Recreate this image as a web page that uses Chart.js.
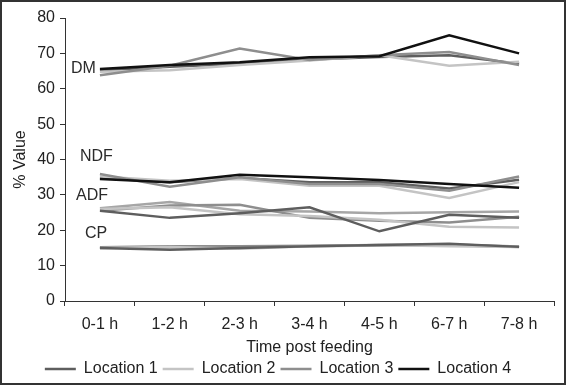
<!DOCTYPE html>
<html>
<head>
<meta charset="utf-8">
<script src="https://cdn.jsdelivr.net/npm/chart.js@4.4.1/dist/chart.umd.min.js"></script>
<style>
    html, body { margin: 0; padding: 0; background: #fff; }
    #frame { width: 566px; height: 385px; box-sizing: border-box; border: 2px solid #333; background: #fff; }
    canvas { display: block; }
</style>
</head>
<body>
<div id="frame"><canvas id="chart" width="562" height="381"></canvas></div>
<script>
var timeLabels = ["0-1 h", "1-2 h", "2-3 h", "3-4 h", "4-5 h", "6-7 h", "7-8 h"];
var locationNames = ["Location 1", "Location 2", "Location 3", "Location 4"];
var locationColors = ["#5e5e5e", "#c4c4c4", "#8e8e8e", "#111111"];

// DM
var dmLoc1 = [65.2, 66.2, 67.1, 68.3, 69.0, 69.5, 67.1];
var dmLoc2 = [64.8, 65.2, 66.7, 68.0, 69.5, 66.5, 67.6];
var dmLoc3 = [63.8, 66.5, 71.4, 68.1, 69.5, 70.4, 66.7];
var dmLoc4 = [65.6, 66.7, 67.5, 68.9, 69.2, 75.1, 70.0];
// NDF
var ndfLoc1 = [34.8, 33.6, 34.8, 33.6, 33.6, 31.8, 34.3];
var ndfLoc2 = [35.2, 34.0, 34.5, 32.6, 32.6, 29.1, 33.6];
var ndfLoc3 = [35.9, 32.3, 35.0, 33.1, 33.1, 31.2, 35.2];
var ndfLoc4 = [34.5, 33.6, 35.7, 35.0, 34.2, 33.1, 32.0];
// ADF
var adfLoc1 = [25.5, 23.5, 24.8, 26.5, 19.7, 24.4, 23.5];
var adfLoc2 = [26.0, 26.5, 24.5, 24.0, 23.0, 21.0, 20.8];
var adfLoc3 = [25.5, 27.0, 27.2, 23.5, 22.7, 22.2, 23.8];
var adfLoc4 = [26.2, 28.0, 25.5, 25.3, 24.8, 25.1, 25.3];
// CP
var cpLoc1 = [15.0, 14.5, 15.0, 15.5, 15.8, 16.2, 15.3];
var cpLoc2 = [15.0, 15.3, 14.8, 15.5, 15.8, 15.5, 15.3];
var cpLoc3 = [15.2, 15.5, 15.5, 15.6, 15.8, 16.0, 15.4];
var cpLoc4 = [15.0, 15.2, 15.4, 15.5, 15.7, 15.8, 15.3];

var yTicks = [0, 10, 20, 30, 40, 50, 60, 70, 80];

// group labels drawn inside the plot: text and the value they sit at
var groupNames = ["DM", "NDF", "ADF", "CP"];
var groupValues = [65.8, 40.8, 29.8, 19.0];

var seriesByLocation = [
    [dmLoc1, ndfLoc1, adfLoc1, cpLoc1],
    [dmLoc2, ndfLoc2, adfLoc2, cpLoc2],
    [dmLoc3, ndfLoc3, adfLoc3, cpLoc3],
    [dmLoc4, ndfLoc4, adfLoc4, cpLoc4]
];

// in the ADF and CP bands the black series reads as grey in the original
var lowBandColors = ["#5e5e5e", "#c4c4c4", "#8e8e8e", "#a6a6a6"];

var datasets = [];
for (var l = 0; l < seriesByLocation.length; ++l) {
    for (var g = 0; g < seriesByLocation[l].length; ++g) {
        var low = g >= 2;
        var color = low ? lowBandColors[l] : locationColors[l];
        datasets.push({
            label: locationNames[l],
            data: seriesByLocation[l][g],
            borderColor: color,
            backgroundColor: locationColors[l],
            borderWidth: 2.5,
            pointRadius: 0,
            tension: 0,
            fill: false,
            order: low ? l : 3 - l,
            legendItem: g === 0
        });
    }
}

var groupLabelOffsets = [6, 15, 11, 20];

var groupLabelPlugin = {
    id: 'groupLabels',
    afterDatasetsDraw: function(chart) {
        var ctx = chart.ctx;
        var yScale = chart.scales.y;
        var left = chart.chartArea.left;
        ctx.save();
        ctx.font = '16px "Liberation Sans", Arial, sans-serif';
        ctx.fillStyle = '#2a2a2a';
        ctx.textAlign = 'left';
        ctx.textBaseline = 'middle';
        for (var i = 0; i < groupNames.length; ++i) {
            ctx.fillText(groupNames[i], left + groupLabelOffsets[i], yScale.getPixelForValue(groupValues[i]));
        }
        ctx.restore();
    }
};

var font = { family: '"Liberation Sans", Arial, sans-serif', size: 16 };

new Chart(document.getElementById('chart'), {
    type: 'line',
    data: { labels: timeLabels, datasets: datasets },
    plugins: [groupLabelPlugin],
    options: {
        responsive: false,
        animation: false,
        devicePixelRatio: 1,
        layout: { padding: { top: 16, right: 10, left: 0, bottom: -4 } },
        plugins: {
            tooltip: { enabled: false },
            legend: {
                position: 'bottom',
                labels: {
                    font: font,
                    color: '#222',
                    usePointStyle: true,
                    pointStyle: 'line',
                    pointStyleWidth: 31,
                    boxHeight: 16,
                    padding: 5,
                    sort: function(a, b) { return a.datasetIndex - b.datasetIndex; },
                    filter: function(item, data) {
                        return data.datasets[item.datasetIndex].legendItem;
                    }
                }
            }
        },
        scales: {
            x: {
                offset: true,
                afterFit: function(scale) { scale.height = 55; },
                grid: { display: true, offset: true, drawOnChartArea: false, tickLength: 5, color: '#333' },
                border: { display: true, color: '#333', width: 1 },
                ticks: { font: font, color: '#222', padding: 9, maxRotation: 0 },
                title: { display: true, text: 'Time post feeding', font: font, color: '#222', padding: { top: 0, bottom: -1 } }
            },
            y: {
                min: 0,
                max: 80,
                afterBuildTicks: function(scale) {
                    scale.ticks = yTicks.map(function(v) { return { value: v }; });
                },
                afterFit: function(scale) { scale.width = 63; },
                grid: { display: true, drawOnChartArea: false, tickLength: 5, color: '#333' },
                border: { display: true, color: '#333', width: 1 },
                ticks: { font: font, color: '#222', padding: 5 },
                title: { display: true, text: '% Value', font: font, color: '#222', padding: { top: 9, bottom: 0 } }
            }
        }
    }
});
</script>
</body>
</html>
